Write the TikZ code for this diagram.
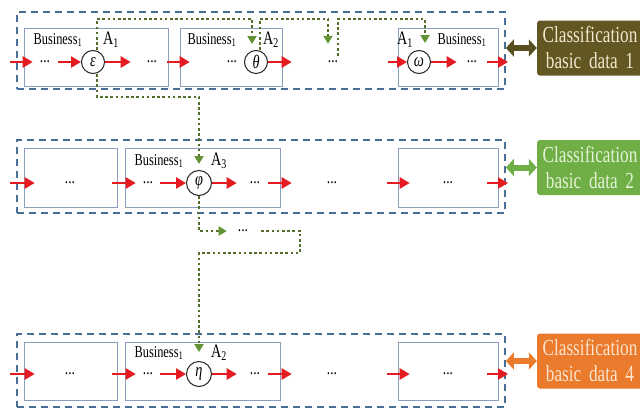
\documentclass[tikz,border=0pt]{standalone}
\usepackage{fontspec}
\setmainfont[FakeStretch=0.75]{Liberation Serif}
\usetikzlibrary{arrows.meta, positioning}

\definecolor{groupblue}{RGB}{72,112,150}
\definecolor{unitblue}{RGB}{140,158,190}
\definecolor{flowred}{RGB}{228,28,34}
\definecolor{linkgreen}{RGB}{82,110,42}
\definecolor{tipgreen}{RGB}{98,146,52}
\definecolor{clsbrown}{RGB}{98,86,34}
\definecolor{clsgreen}{RGB}{112,174,70}
\definecolor{clsorange}{RGB}{234,122,44}

\begin{document}
\begin{tikzpicture}[x=1pt, y=-1pt,
      group/.style={draw=groupblue, line width=1.8pt, dash pattern=on 7pt off 5pt, minimum width=488pt, inner sep=0},
      unit/.style={draw=unitblue, line width=1pt, inner sep=0},
      op/.style={circle, draw=black!85, line width=1pt, minimum size=25pt, inner sep=0, font=\fontsize{19}{19}\selectfont\itshape},
      dots/.style={inner sep=1pt, minimum height=12pt, font=\fontsize{18}{18}\selectfont},
      lbl/.style={inner sep=0, font=\fontsize{16.5}{16.5}\selectfont},
      alb/.style={inner sep=0, font=\fontsize{19}{19}\selectfont},
      cls/.style={rounded corners=3pt, text width=100pt, inner sep=3pt, minimum height=55pt, align=center, font=\fontsize{23}{26}\selectfont},
      flow/.style={-{Triangle[length=10pt,width=11pt]}, draw=flowred, line width=2.8pt},
      link/.style={-{Triangle[length=8pt,width=9pt,color=tipgreen]}, draw=linkgreen, line width=2.6pt, dash pattern=on 2.6pt off 2.6pt},
      bi/.style={{Triangle[length=8pt,width=17pt]}-{Triangle[length=8pt,width=17pt]}, line width=6pt}
    ]
      \useasboundingbox (0,0) rectangle (640,410);
      \coordinate (top) at (0,19);
      \coordinate (mid) at (0,97);
      \coordinate (turn) at (300,253);

      % row 1
      \node[group, minimum height=77pt] (row1) at (261,50.5) {};
      \node[unit, minimum width=144pt, minimum height=58pt] (u11) at (96,57) {};
      \node[unit, minimum width=102pt, minimum height=58pt] (u12) at (231,57) {};
      \node[unit, minimum width=100pt, minimum height=58pt] (u13) at (448,57) {};
      \node[lbl] (bus11) at (58,40)  {Business\textsubscript{1}};
      \node[alb] (a11)   at (111,40) {A\textsubscript{1}};
      \node[lbl] (bus12) at (212,40) {Business\textsubscript{1}};
      \node[alb] (a12)   at (271,40) {A\textsubscript{2}};
      \node[alb] (a13)   at (405,40) {A\textsubscript{1}};
      \node[lbl] (bus13) at (462,40) {Business\textsubscript{1}};
      \node[op, minimum size=23pt] (eps)   at (93,62)  {ε};
      \node[op, minimum size=23pt] (theta) at (256,62) {θ};
      \node[op, minimum size=23pt] (omega) at (419,62) {ω};
      \node[dots] (d11) at (45,62)  {...};
      \node[dots] (d12) at (152,62) {...};
      \node[dots] (d13) at (232,62) {...};
      \node[dots] (d14) at (333,62) {...};
      \node[dots] (d15) at (472,62) {...};
      \coordinate (in1)  at (10,62);
      \coordinate (out1) at (508,62);
      \draw[flow, shorten >=6pt] (in1)--(d11);
      \draw[flow, shorten <=7pt] (d11)--(eps);
      \draw[flow, shorten >=15pt] (eps)--(d12);
      \draw[flow, shorten <=9pt, shorten >=36pt] (d12)--(d13);
      \draw[flow, shorten >=35pt] (theta)--(d14);
      \draw[flow, shorten <=49pt] (d14)--(omega);
      \draw[flow, shorten >=9pt] (omega)--(d15);
      \draw[flow, shorten <=9pt] (d15)--(out1);

      % row 2
      \node[group, minimum height=73pt] (row2) at (261,176.5) {};
      \node[unit, minimum width=93pt, minimum height=59pt]  (u21) at (70.5,177.5) {};
      \node[unit, minimum width=155pt, minimum height=59pt] (u22) at (202.5,177.5) {};
      \node[unit, minimum width=100pt, minimum height=59pt] (u23) at (448,177.5) {};
      \node[lbl] (bus22) at (159,161) {Business\textsubscript{1}};
      \node[alb] (a22)   at (219,161) {A\textsubscript{3}};
      \node[op] (phi) at (199,183) {φ};
      \node[dots] (d21) at (70,183)  {...};
      \node[dots] (d22) at (148,183) {...};
      \node[dots] (d23) at (255,183) {...};
      \node[dots] (d24) at (332,183) {...};
      \node[dots] (d25) at (448,183) {...};
      \coordinate (in2)  at (10,183);
      \coordinate (out2) at (508,183);
      \draw[flow, shorten >=29pt] (in2)--(d21);
      \draw[flow, shorten <=36pt, shorten >=6pt] (d21)--(d22);
      \draw[flow, shorten <=6pt] (d22)--(phi);
      \draw[flow, shorten >=12pt] (phi)--(d23);
      \draw[flow, shorten <=7pt, shorten >=34pt] (d23)--(d24);
      \draw[flow, shorten <=49pt, shorten >=32pt] (d24)--(d25);
      \draw[flow, shorten <=33pt] (d25)--(out2);

      % row 4
      \node[group, minimum height=73pt] (row4) at (261,370.5) {};
      \node[unit, minimum width=93pt, minimum height=58pt]  (u41) at (70.5,371) {};
      \node[unit, minimum width=155pt, minimum height=58pt] (u42) at (202.5,371) {};
      \node[unit, minimum width=100pt, minimum height=58pt] (u43) at (448,371) {};
      \node[lbl] (bus42) at (159,353) {Business\textsubscript{1}};
      \node[alb] (a42)   at (219,353) {A\textsubscript{2}};
      \node[op] (eta) at (199,374) {η};
      \node[dots] (d41) at (70,374)  {...};
      \node[dots] (d42) at (148,374) {...};
      \node[dots] (d43) at (255,374) {...};
      \node[dots] (d44) at (332,374) {...};
      \node[dots] (d45) at (448,374) {...};
      \coordinate (in4)  at (10,374);
      \coordinate (out4) at (508,374);
      \draw[flow, shorten >=29pt] (in4)--(d41);
      \draw[flow, shorten <=36pt, shorten >=6pt] (d41)--(d42);
      \draw[flow, shorten <=6pt] (d42)--(eta);
      \draw[flow, shorten >=12pt] (eta)--(d43);
      \draw[flow, shorten <=7pt, shorten >=34pt] (d43)--(d44);
      \draw[flow, shorten <=49pt, shorten >=32pt] (d44)--(d45);
      \draw[flow, shorten <=33pt] (d45)--(out4);

      % classification data
      \node[cls, fill=clsbrown, text={rgb,255:red,238;green,232;blue,205}] (cls1) at (590,48) {Classification\\basic data 1};
      \node[cls, fill=clsgreen, text={rgb,255:red,228;green,242;blue,216}] (cls2) at (590,167.5) {Classification\\basic data 2};
      \node[cls, fill=clsorange, text={rgb,255:red,252;green,228;blue,205}] (cls4) at (590,361) {Classification\\basic data 4};
      \draw[bi, clsbrown!90!black] (row1.east |- cls1.west)--(cls1.west);
      \draw[bi, clsgreen] (row2.east |- cls2.west)--(cls2.west);
      \draw[bi, clsorange] (row4.east |- cls4.west)--(cls4.west);

      % links between operations
      \draw[link, shorten >=6pt] ([xshift=4pt]eps.north) -- ([xshift=4pt]eps.north |- top) -| ([xshift=-4pt]theta.north);
      \draw[link, shorten >=12pt] ([xshift=4pt]theta.north) -- ([xshift=4pt]theta.north |- top) -| ([xshift=-5pt]d14.north);
      \draw[link, shorten >=7pt] ([xshift=5pt]d14.north) -- ([xshift=5pt]d14.north |- top) -| ([xshift=6pt]omega.north);
      \draw[link, shorten >=6pt] ([xshift=4pt]eps.south) -- ([xshift=4pt]eps.south |- mid) -| (phi.north);
      \node[dots] (d26) at (243,231) {...};
      \draw[link, shorten >=10pt] (phi.south) |- (d26.west);
      \draw[link, shorten <=12pt, shorten >=9pt] (d26.east) -- (d26 -| turn) -- (turn) -- (turn -| eta) -- (eta.north);
    \end{tikzpicture}
\end{document}
